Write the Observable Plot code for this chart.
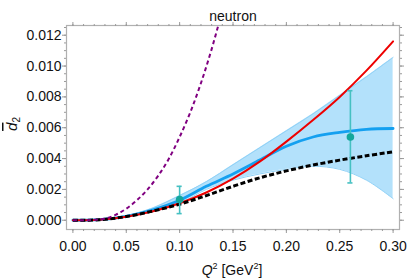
<!DOCTYPE html>
<html><head><meta charset="utf-8">
<script src="https://cdn.jsdelivr.net/npm/d3@7"></script>
<script src="https://cdn.jsdelivr.net/npm/@observablehq/plot@0.6"></script>
<style>body{margin:0;background:#fff} svg{display:block}</style>
</head><body><div id="chart"></div>
<script>
// grid of Q^2 values for the smooth curves
const q2 = [0, 0.025, 0.05, 0.075, 0.10, 0.125, 0.15, 0.175, 0.20, 0.225, 0.25, 0.275, 0.30];
const redCurve   = [0, 0.00003, 0.00022, 0.00058, 0.0011, 0.0018, 0.0027, 0.0038, 0.0051, 0.0065, 0.0080, 0.0097, 0.0116];
const blueCurve  = [0, 0.00004, 0.00025, 0.00068, 0.0013, 0.0022, 0.0030, 0.0039, 0.0048, 0.0054, 0.0057, 0.0059, 0.00595];
const bandLow    = [0, 0.00003, 0.0002, 0.00055, 0.0011, 0.0020, 0.0026, 0.0030, 0.0033, 0.0035, 0.0033, 0.0026, 0.0014];
const bandHigh   = [0, 0.00005, 0.0003, 0.0008, 0.0016, 0.0025, 0.0036, 0.0047, 0.0058, 0.0069, 0.0081, 0.0093, 0.01056];
const blackCurve = [0, 0.00003, 0.00024, 0.0006, 0.00104, 0.0016, 0.0022, 0.00275, 0.0032, 0.00358, 0.0039, 0.00418, 0.00444];
// steep purple dashed curve
const purpleQ2 = [0, 0.01, 0.02, 0.03, 0.04, 0.05, 0.06, 0.07, 0.08, 0.09, 0.10, 0.11, 0.12, 0.13, 0.14];
const purpleCurve = [0, 0, 0.00003, 0.0001, 0.00035, 0.00075, 0.0013, 0.002, 0.0029, 0.004, 0.0054, 0.0070, 0.0089, 0.0111, 0.0136];
// data points with error bars
const ptQ2 = [0.10, 0.26];
const ptVal = [0.00135, 0.0054];
const ptLow = [0.00043, 0.00242];
const ptHigh = [0.0022, 0.0084];
// ticks
const xTicks = [0, 0.05, 0.10, 0.15, 0.20, 0.25, 0.30];
const yTicks = [0, 0.002, 0.004, 0.006, 0.008, 0.010, 0.012];
const xMinor = d3.range(0, 0.3001, 0.01);
const yMinor = d3.range(0, 0.01251, 0.0005);
const title = "neutron";

const curves = q2.map((x, i) => ({x, red: redCurve[i], blue: blueCurve[i], lo: bandLow[i], hi: bandHigh[i], black: blackCurve[i]}));
const purple = purpleQ2.map((x, i) => ({x, y: purpleCurve[i]}));
const pts = ptQ2.map((x, i) => ({x, y: ptVal[i], lo: ptLow[i], hi: ptHigh[i]}));

const tickColor = "#9a9a9a";
const font = "Liberation Sans, Arial, Helvetica, sans-serif";
const fmtX = d3.format(".2f"), fmtY = d3.format(".3f");
const capHalf = 0.0024;

const chart = Plot.plot({
  width: 407, height: 279,
  marginLeft: 66, marginRight: 8, marginTop: 25, marginBottom: 50,
  style: {fontFamily: font, fontSize: "14px", background: "#fff", color: "#111"},
  x: {domain: [-0.006, 0.306], label: null},
  y: {domain: [-0.0006, 0.01263], label: null},
  marks: [
    Plot.areaY(curves, {x: "x", y1: "lo", y2: "hi", fill: "#b3e1fb", curve: "catmull-rom"}),
    Plot.line(curves, {x: "x", y: "lo", stroke: "#8fd1f7", strokeWidth: 1, curve: "catmull-rom"}),
    Plot.line(curves, {x: "x", y: "hi", stroke: "#8fd1f7", strokeWidth: 1, curve: "catmull-rom"}),
    Plot.line(curves, {x: "x", y: "blue", stroke: "#14a0f0", strokeWidth: 2.8, curve: "catmull-rom"}),
    Plot.line(curves, {x: "x", y: "red", stroke: "#ee0000", strokeWidth: 2, curve: "catmull-rom"}),
    Plot.line(curves, {x: "x", y: "black", stroke: "#000", strokeWidth: 3, strokeDasharray: "5,2.5", strokeLinecap: "butt", curve: "catmull-rom"}),
    Plot.line(purple, {x: "x", y: "y", stroke: "#800080", strokeWidth: 2, strokeDasharray: "4,3", strokeLinecap: "butt", curve: "catmull-rom", clip: true}),
    Plot.ruleX(pts, {x: "x", y1: "lo", y2: "hi", stroke: "#45c0c2", strokeWidth: 1.6}),
    Plot.ruleY(pts, {y: "lo", x1: d => d.x - capHalf, x2: d => d.x + capHalf, stroke: "#45c0c2", strokeWidth: 1.6}),
    Plot.ruleY(pts, {y: "hi", x1: d => d.x - capHalf, x2: d => d.x + capHalf, stroke: "#45c0c2", strokeWidth: 1.6}),
    Plot.dot(pts, {x: "x", y: "y", r: 3.8, fill: "#13a79c", stroke: "none"}),
    Plot.frame({stroke: "#b0b0b0", strokeWidth: 1.2}),
    // bottom axis
    Plot.axisX(xTicks, {anchor: "bottom", tickSize: 4, tickPadding: 8, tickFormat: fmtX, stroke: tickColor, fill: "#111", fontSize: 14, label: null}),
    Plot.axisX(xMinor, {anchor: "bottom", tickSize: 2, tickFormat: () => "", stroke: tickColor, label: null}),
    // top axis
    Plot.axisX(xTicks, {anchor: "top", tickSize: 4, tickFormat: () => "", stroke: tickColor, label: null}),
    Plot.axisX(xMinor, {anchor: "top", tickSize: 2, tickFormat: () => "", stroke: tickColor, label: null}),
    // left axis
    Plot.axisY(yTicks, {anchor: "left", tickSize: 4, tickPadding: 1, tickFormat: fmtY, stroke: tickColor, fill: "#111", fontSize: 14, label: null}),
    Plot.axisY(yMinor, {anchor: "left", tickSize: 2, tickFormat: () => "", stroke: tickColor, label: null}),
    // right axis
    Plot.axisY(yTicks, {anchor: "right", tickSize: 4, tickFormat: () => "", stroke: tickColor, label: null}),
    Plot.axisY(yMinor, {anchor: "right", tickSize: 2, tickFormat: () => "", stroke: tickColor, label: null}),
    Plot.text([title], {frameAnchor: "top", dy: -14.5, fontSize: 14, fill: "#111"})
  ]
});

document.getElementById("chart").append(chart);

const svg = d3.select(chart);
// x axis label: Q^2 [GeV^2]
const xl = svg.append("text")
  .attr("x", 232).attr("y", 275)
  .attr("text-anchor", "middle")
  .attr("font-family", font).attr("font-size", 14).attr("fill", "#111");
xl.append("tspan").attr("font-style", "italic").text("Q");
xl.append("tspan").attr("font-size", 9).attr("dy", -6).text("2");
xl.append("tspan").attr("dy", 6).text(" [GeV");
xl.append("tspan").attr("font-size", 9).attr("dy", -6).text("2");
xl.append("tspan").attr("dy", 6).text("]");

// y axis label: d-bar subscript 2
const yl = svg.append("text")
  .attr("transform", "translate(17,124) rotate(-90)")
  .attr("text-anchor", "middle")
  .attr("font-family", font).attr("font-size", 15).attr("fill", "#111");
yl.append("tspan").attr("font-style", "italic").style("text-decoration", "overline").text("d");
yl.append("tspan").attr("font-size", 10).attr("dy", 3).text("2");
</script></body></html>
